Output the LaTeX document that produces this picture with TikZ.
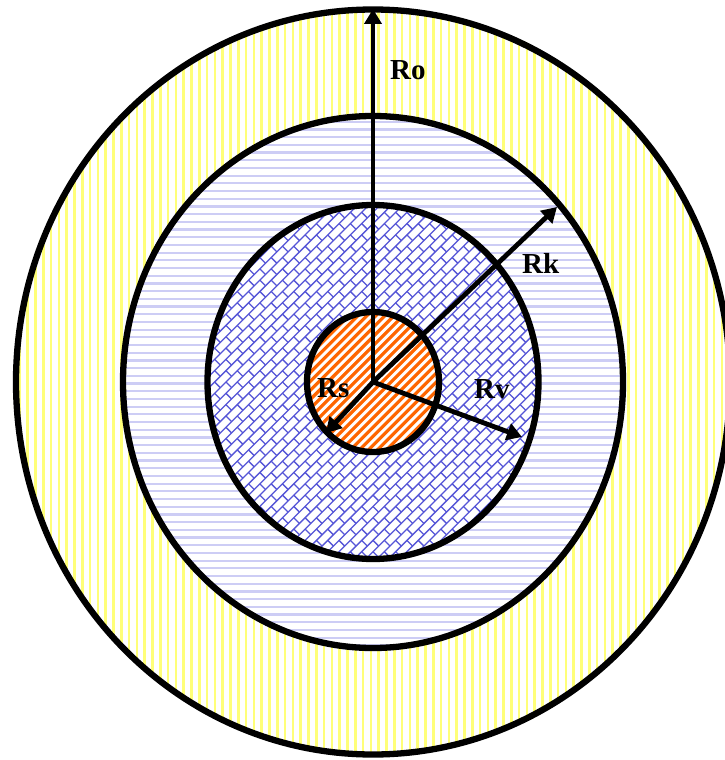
\documentclass[tikz,border=0pt]{standalone}
\usepackage{fontspec}
\setmainfont{Liberation Serif}
\usetikzlibrary{arrows.meta}
\definecolor{yel}{RGB}{255,255,120}
\definecolor{lblue}{RGB}{205,205,245}
\definecolor{brick}{RGB}{85,85,215}
\definecolor{orng}{RGB}{255,102,0}
\tikzset{
  ring/.style={draw=black, line width=6.3pt},
  arr/.style={draw=black, line width=4.8pt, -{Triangle[length=15pt,width=17pt]}},
  lbl/.style={inner sep=0pt, anchor=base west, font=\fontsize{29}{30}\selectfont\bfseries}
}
\begin{document}
\begin{tikzpicture}[x=1pt,y=-1pt]
\useasboundingbox (0,0) rectangle (724,760);
\coordinate (O) at (373,382);
% outer ring (yellow vertical lines)
\fill[white] (O) ellipse [x radius=357, y radius=372.5];
\begin{scope}
  \clip (O) ellipse [x radius=357, y radius=372.5];
  \foreach \i in {0,...,92} \draw[yel, line width=2.6pt] (12+\i*7.8,0) -- (12+\i*7.8,760);
\end{scope}
% second ring (blue horizontal lines)
\fill[white] (O) ellipse [x radius=250, y radius=266];
\begin{scope}
  \clip (O) ellipse [x radius=250, y radius=266];
  \foreach \i in {0,...,72} \draw[lblue, line width=2.2pt] (100,114+\i*7.7) -- (650,114+\i*7.7);
\end{scope}
% third ring (diagonal brick)
\fill[white] (O) ellipse [x radius=165.5, y radius=177];
\begin{scope}
  \clip (O) ellipse [x radius=165.5, y radius=177];
  \begin{scope}[shift={(373,382)}, rotate=45]
    \foreach \k in {-26,...,26} {
      \draw[brick, line width=1.3pt] (-210,\k*8) -- (210,\k*8);
      \pgfmathsetmacro{\off}{mod(abs(\k),2)*8}
      \foreach \j in {-13,...,13}
        \draw[brick, line width=1.3pt] (\j*16+\off,\k*8) -- (\j*16+\off,\k*8+8);
    }
  \end{scope}
\end{scope}
% core (orange stripes)
\fill[white] (O) ellipse [x radius=66, y radius=70];
\begin{scope}
  \clip (O) ellipse [x radius=66, y radius=70];
  \begin{scope}[shift={(373,382)}, rotate=45]
    \foreach \k in {-14,...,14} \draw[orng, line width=3.2pt] (-120,\k*6.4) -- (120,\k*6.4);
  \end{scope}
\end{scope}
% outlines
\draw[ring] (O) ellipse [x radius=357, y radius=372.5];
\draw[ring] (O) ellipse [x radius=250, y radius=266];
\draw[ring] (O) ellipse [x radius=165.5, y radius=177];
\draw[ring] (O) ellipse [x radius=66, y radius=70];
% radius arrows
\coordinate (tRo) at (373,9);
\coordinate (tRk) at (557,207);
\coordinate (tRv) at (522,437);
\coordinate (tRs) at (326,433);
\draw[arr] (O) -- (tRo);
\draw[arr] (O) -- (tRk);
\draw[arr] (O) -- (tRv);
\draw[arr] (O) -- (tRs);
% labels
\node[lbl] (Ro) at (390,80) {Ro};
\node[lbl] (Rk) at (522,273) {Rk};
\node[lbl] (Rs) at (317,397) {Rs};
\node[lbl] (Rv) at (474,398) {Rv};
\end{tikzpicture}
\end{document}
